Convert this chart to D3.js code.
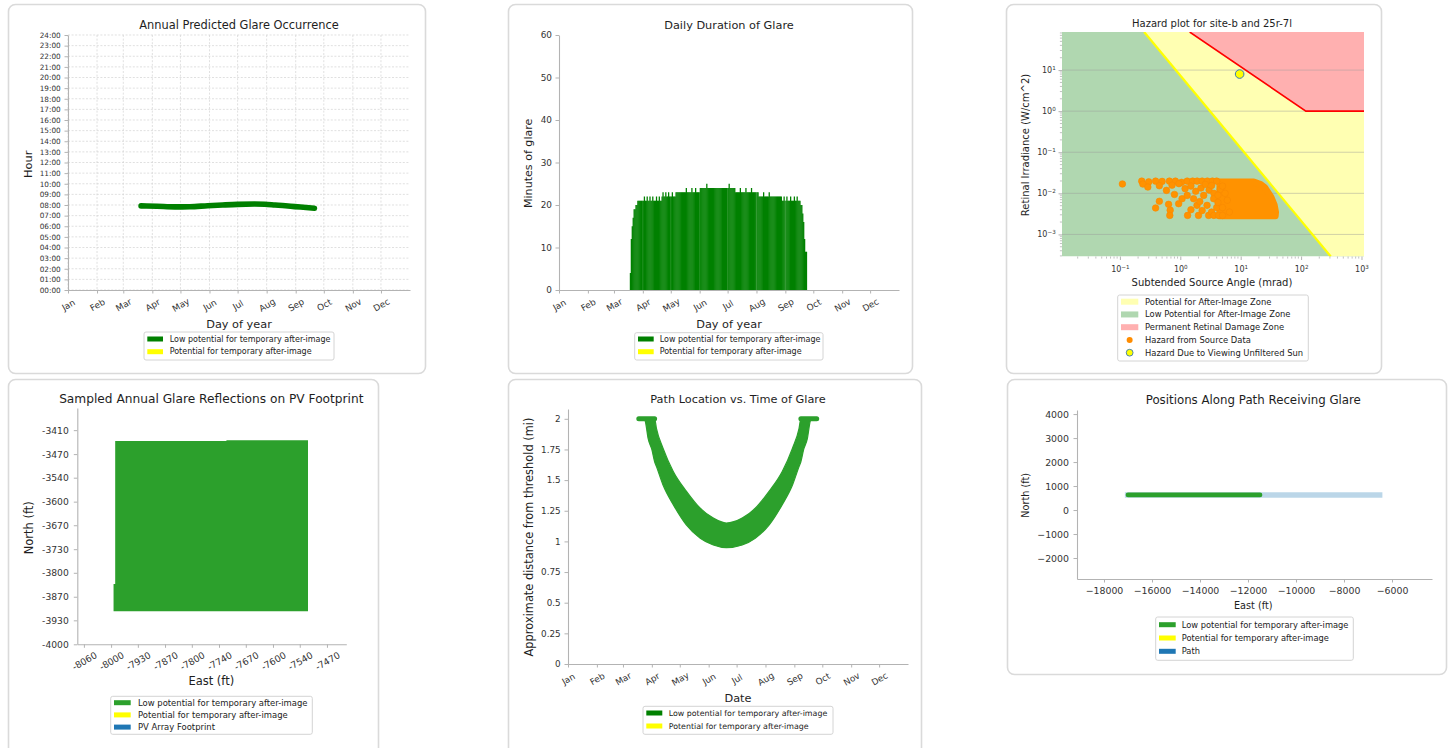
<!DOCTYPE html>
<html><head><meta charset="utf-8">
<script src="https://cdn.jsdelivr.net/npm/d3@7"></script>
<style>
body{margin:0;background:#fff;}
svg{display:block;}
text{font-family:"DejaVu Sans",sans-serif;}
</style>
</head><body>
<script>
// ======================= DATA =======================
const monthLabels = ["Jan","Feb","Mar","Apr","May","Jun","Jul","Aug","Sep","Oct","Nov","Dec"];
const glareLegendLabels = ["Low potential for temporary after-image","Potential for temporary after-image"];

// Panel 1 : Annual Predicted Glare Occurrence (day of year, hour of day)
const hourTicks = [0,1,2,3,4,5,6,7,8,9,10,11,12,13,14,15,16,17,18,19,20,21,22,23,24];
const hourLabels = ["00:00","01:00","02:00","03:00","04:00","05:00","06:00","07:00","08:00","09:00","10:00","11:00","12:00",
  "13:00","14:00","15:00","16:00","17:00","18:00","19:00","20:00","21:00","22:00","23:00","24:00"];
const glareDoy  = [79,96,115,131,150,166,182,200,211,222,233,243,255,264];
const glareHour = [7.92,7.88,7.82,7.84,7.93,8.00,8.06,8.09,8.07,8.00,7.93,7.85,7.77,7.70];

// Panel 2 : Daily Duration of Glare (minutes per day, starting at day of year 77)
const durationStartDoy = 77;
const durationMinutes = [
  4,12,15,17,19,19,20,20,                       // 77-84
  21,21,21,21,21,21,21,                         // 85-91
  22,21,21,22,21,21,22,21,21,22,21,21,21,22,21,21,22,21,21, // 92-110
  22,23,22,22,23,22,22,23,22,22,22,23,22,22,22, // 111-125
  23,23,23,23,23,23,23,23,23,23,23,24,23,23,23,23,23,24,23,23,23,24,23,23,23,23, // 126-151
  24,24,24,24,24,24,24,25,                      // 152-159
  24,24,24,24,24,24,24,24,24,24,24,24,24,24,24,24,24,24,24,24,24,24,24,25, // 160-183
  24,24,24,24,24,24,                            // 184-189
  23,23,23,23,23,24,23,23,23,23,23,24,23,23,23,23,23,24,23,23,23,23,23,23,23, // 190-214
  22,22,22,22,22,23,22,22,22,22,22,23,22,22,22,22,22,22,22,22,22,22,22,22,22, // 215-239
  21,21,22,21,21,22,21,21,21,22,21,21,21,22,21,21,22,21,21,21, // 240-259
  20,20,18,16,12,9,9                            // 260-266
];
const durationTicks = [0,10,20,30,40,50,60];

// Panel 3 : Hazard plot
const hazardAngle = [0.11,0.23,0.30,0.39,0.50,0.66,0.83,1.05,1.30,1.60,1.90,2.30,2.80,3.40,4.00,
  0.24,0.29,0.45,0.59,0.73,0.80,0.95,1.20,1.50,1.80,2.20,2.60,3.00,3.30,3.60,
  0.45,0.39,0.64,0.68,0.67,0.94,1.07,1.30,1.32,1.66,1.89,2.00,2.44,2.77,2.95,3.57,
  1.50,2.30,3.30,4.00,4.20,2.10,3.60,4.30,5.00,4.60,5.00,5.50,6.00,5.00,6.50,4.20];
const hazardIrr = [0.0169,0.0198,0.0190,0.0198,0.0195,0.0198,0.0198,0.0185,0.0198,0.0198,0.0198,0.0198,0.0198,0.0198,0.0198,
  0.0168,0.0142,0.0153,0.0118,0.0158,0.0094,0.0172,0.0130,0.0150,0.0112,0.0135,0.0165,0.0120,0.0155,0.0100,
  0.0064,0.0044,0.0054,0.0039,0.0029,0.0056,0.0074,0.0089,0.0029,0.0074,0.0051,0.0029,0.0089,0.0051,0.0029,0.0074,
  0.0040,0.0038,0.0035,0.0045,0.0060,0.0063,0.0029,0.0029,0.0029,0.0125,0.0150,0.0100,0.0068,0.0045,0.0035,0.0090];
// outline of the dense cloud of source-data points (point centres)
const denseAngle = [4.5,16.5,21.5,25,28,32,36,38,37.5,4.5];
const denseIrr   = [0.0190,0.0190,0.0165,0.0140,0.0109,0.0080,0.0053,0.0035,0.0028,0.0028];
const sunAngle = [9.6];
const sunIrr   = [8.0];
const afterImageAngle = [0.252,310];
const afterImageIrr   = [84.5,0.00029];
const damageAngle = [1.43,120,1100];
const damageIrr   = [84.5,1,1];
const angleTicks = [0.1,1,10,100,1000];
const angleExp   = ["\u22121","0","1","2","3"];
const irrTicks   = [0.001,0.01,0.1,1,10];
const irrExp     = ["\u22123","\u22122","\u22121","0","1"];
const hazardLegend = ["Potential for After-Image Zone","Low Potential for After-Image Zone","Permanent Retinal Damage Zone",
  "Hazard from Source Data","Hazard Due to Viewing Unfiltered Sun"];

// Panel 4 : PV footprint
const pvEast  = [-7984,-7714,-7714,-7516,-7516,-7988,-7988,-7984];
const pvNorth = [-3440,-3440,-3438,-3438,-3909,-3909,-3834,-3834];
const pvEastTicks  = [-8060,-7994,-7929,-7863,-7798,-7732,-7667,-7601,-7536,-7470];
const pvEastLabels = ["-8060","-8000","-7930","-7870","-7800","-7740","-7670","-7600","-7540","-7470"];
const pvNorthTicks  = [-4000,-3934,-3869,-3803,-3738,-3672,-3607,-3541,-3476,-3410];
const pvNorthLabels = ["-4000","-3930","-3870","-3800","-3730","-3670","-3600","-3540","-3470","-3410"];
const pvLegend = ["Low potential for temporary after-image","Potential for temporary after-image","PV Array Footprint"];

// Panel 5 : Path location vs time (day of year, min / max distance in miles)
const pathDoy  = [77,83,84,87,91,94,96,103,114,128,143,157,171,188,202,217,231,242,249,251,254,258,261,262,268];
const pathLow  = [2,2,1.98,1.84,1.75,1.65,1.61,1.46,1.30,1.135,1.026,0.971,0.949,0.971,1.026,1.135,1.30,1.46,1.61,1.65,1.75,1.84,1.98,2,2];
const pathHigh = [2,2,2,2,2,2,1.92,1.76,1.57,1.41,1.27,1.19,1.15,1.19,1.27,1.41,1.57,1.76,1.92,2,2,2,2,2,2];
const distTicks  = [0,0.25,0.5,0.75,1,1.25,1.5,1.75,2];
const distLabels = ["0","0.25","0.5","0.75","1","1.25","1.5","1.75","2"];

// Panel 6 : Positions along path
const routeEast  = [-17130,-6400];
const routeNorth = [630,630];
const glareEast  = [-17000,-11500];
const glareNorth = [630,630];
const eastTicks  = [-18000,-16000,-14000,-12000,-10000,-8000,-6000];
const northTicks = [-2000,-1000,0,1000,2000,3000,4000];
const routeLegend = ["Low potential for temporary after-image","Potential for temporary after-image","Path"];

// ======================= DRAWING =======================
const svg = d3.select("body").append("svg").attr("width",1450).attr("height",748);
const SPINE = "#b3b3b3", TICKC = "#333", LABC = "#1e1e1e";
const yr0 = new Date(2023,0,1), yr1 = new Date(2024,0,1);
const doyDate = d => new Date(2023,0,d);
const monthDates = monthLabels.map((m,i)=>new Date(2023,i,1));
const MONTH_FS = 8.8, MONTH_OFF = 15;

function card(x,y,w,h){
  svg.append("rect").attr("x",x).attr("y",y).attr("width",w).attr("height",h).attr("rx",7)
    .attr("fill","#fff").attr("stroke","#dadada").attr("stroke-width",1.6);
}
function label(x,y,str,size,rot){
  const t = svg.append("text").attr("x",x).attr("y",y).attr("font-size",size).attr("fill",LABC)
    .attr("text-anchor","middle").attr("dominant-baseline","central").text(str);
  if(rot) t.attr("transform",`rotate(${rot},${x},${y})`);
  return t;
}
function styleAxis(g,size,hideDomain){
  g.select(".domain").attr("stroke",hideDomain?"none":SPINE).attr("stroke-width",1.1);
  g.selectAll(".tick line").attr("stroke",SPINE).attr("stroke-width",1);
  g.selectAll(".tick text").attr("fill",TICKC).attr("font-size",size);
}
function rotateX(g,off){
  g.selectAll(".tick text").attr("y",0).attr("dy",null).attr("dominant-baseline","central")
    .attr("text-anchor","middle").attr("transform",`translate(0,${off}) rotate(-30)`);
}
function legend(box,rows,items){
  const g = svg.append("g");
  g.append("rect").attr("x",box[0]).attr("y",box[1]).attr("width",box[2]).attr("height",box[3]).attr("rx",2)
    .attr("fill","#fff").attr("stroke","#cfcfcf").attr("stroke-width",0.9);
  items.forEach((it,i)=>{
    const cy = rows.y0 + i*rows.step;
    if(it.type==="dot"){
      g.append("circle").attr("cx",rows.sx+rows.sw/2).attr("cy",cy).attr("r",3).attr("fill",it.color);
    } else if(it.type==="sun"){
      g.append("circle").attr("cx",rows.sx+rows.sw/2).attr("cy",cy).attr("r",3.4).attr("fill","#ffff00")
        .attr("stroke","#3a78b5").attr("stroke-width",0.9);
    } else {
      g.append("rect").attr("x",rows.sx).attr("y",cy-rows.sh/2).attr("width",rows.sw).attr("height",rows.sh).attr("fill",it.color);
    }
    g.append("text").attr("x",rows.tx).attr("y",cy).attr("dominant-baseline","central")
      .attr("font-size",rows.fs).attr("fill","#222").text(it.label);
  });
}

// cards
card(8.5,4.5,417,369);
card(508.5,4.5,404,369);
card(1006.5,4.5,375,369);
card(8.5,379.5,370,380);
card(508.5,379.5,413,380);
card(1007.5,379.5,439,295);

// ---------------- Panel 1 ----------------
{
  const x = d3.scaleTime().domain([yr0,yr1]).range([68,410]);
  const y = d3.scaleLinear().domain([0,24]).range([290,35]);
  const grid = svg.append("g").attr("stroke","#d2d2d2").attr("stroke-width",0.7).attr("stroke-dasharray","2,1.6");
  grid.selectAll("line.h").data(hourTicks).join("line").attr("x1",68).attr("x2",410)
    .attr("y1",d=>y(d)).attr("y2",d=>y(d));
  grid.selectAll("line.v").data(monthDates).join("line").attr("y1",35).attr("y2",290)
    .attr("x1",d=>x(d)).attr("x2",d=>x(d));
  const pts = glareDoy.map((d,i)=>[x(doyDate(d)), y(glareHour[i])]);
  svg.append("path").attr("d",d3.line().curve(d3.curveMonotoneX)(pts)).attr("fill","none")
    .attr("stroke","#008000").attr("stroke-width",5.6).attr("stroke-linecap","round");
  const ga = svg.append("g").attr("transform","translate(68,0)")
    .call(d3.axisLeft(y).tickValues(hourTicks).tickFormat((d,i)=>hourLabels[i]).tickSize(3.5).tickPadding(3.8).tickSizeOuter(0));
  styleAxis(ga,7.3);
  const gb = svg.append("g").attr("transform","translate(0,290)")
    .call(d3.axisBottom(x).tickValues(monthDates).tickFormat((d,i)=>monthLabels[i]).tickSize(3.5).tickSizeOuter(0));
  styleAxis(gb,MONTH_FS); rotateX(gb,MONTH_OFF);
  label(239,25,"Annual Predicted Glare Occurrence",11.4);
  label(239,324.5,"Day of year",11.3);
  label(28.7,164.3,"Hour",11.3,-90);
  legend([144,332,190,28],{y0:339,step:12.7,sx:147.3,sw:15.7,sh:5,tx:169.7,fs:8},
    [{color:"#008000",label:glareLegendLabels[0]},{color:"#ffff00",label:glareLegendLabels[1]}]);
}

// ---------------- Panel 2 ----------------
{
  const x = d3.scaleTime().domain([yr0,yr1]).range([559,899]);
  const y = d3.scaleLinear().domain([0,60]).range([290,35]);
  const bars = durationMinutes.map((v,i)=>({doy:durationStartDoy+i, v}));
  svg.append("g").selectAll("rect").data(bars).join("rect")
    .attr("x",d=>x(doyDate(d.doy))).attr("width",d=>x(doyDate(d.doy+1))-x(doyDate(d.doy))+0.35)
    .attr("y",d=>y(d.v)).attr("height",d=>y(0)-y(d.v)).attr("fill","#008000");
  svg.append("g").selectAll("line").data(monthDates).join("line")
    .attr("x1",d=>x(d)).attr("x2",d=>x(d)).attr("y1",35).attr("y2",290)
    .attr("stroke","#ffffff").attr("stroke-opacity",0.16).attr("stroke-width",0.9);
  const ga = svg.append("g").attr("transform","translate(559,0)")
    .call(d3.axisLeft(y).tickValues(durationTicks).tickSize(3.5).tickPadding(3.5).tickSizeOuter(0));
  styleAxis(ga,8.9);
  const gb = svg.append("g").attr("transform","translate(0,290)")
    .call(d3.axisBottom(x).tickValues(monthDates).tickFormat((d,i)=>monthLabels[i]).tickSize(3.5).tickSizeOuter(0));
  styleAxis(gb,MONTH_FS); rotateX(gb,MONTH_OFF);
  label(729,25,"Daily Duration of Glare",11.3);
  label(729,324.5,"Day of year",11.3);
  label(528.7,163.3,"Minutes of glare",11.1,-90);
  legend([634.7,332.7,188.3,27.3],{y0:339,step:12.7,sx:638,sw:15.7,sh:5,tx:659.7,fs:8},
    [{color:"#008000",label:glareLegendLabels[0]},{color:"#ffff00",label:glareLegendLabels[1]}]);
}

// ---------------- Panel 3 ----------------
{
  const x = d3.scaleLog().domain([0.011,1100]).range([1062,1364]);
  const y = d3.scaleLog().domain([0.00029,84.5]).range([256.5,32]);
  const [xd0,xd1] = x.domain(), [yd0,yd1] = y.domain();
  svg.append("clipPath").attr("id","clip3").append("rect").attr("x",1062).attr("y",32).attr("width",302).attr("height",224.5);
  const g = svg.append("g").attr("clip-path","url(#clip3)");
  g.append("rect").attr("x",1062).attr("y",32).attr("width",302).attr("height",224.5).attr("fill","#b0d7b0");
  const poly = d3.line();
  const yz = [[afterImageAngle[0],yd1],[afterImageAngle[1],afterImageIrr[1]],[xd1,yd0],[xd1,yd1]];
  g.append("path").attr("d",poly(yz.map(p=>[x(p[0]),y(p[1])]))+"Z").attr("fill","#ffffb2");
  const rz = damageAngle.map((a,i)=>[a,damageIrr[i]]).concat([[xd1,yd1]]);
  g.append("path").attr("d",poly(rz.map(p=>[x(p[0]),y(p[1])]))+"Z").attr("fill","#ffb0b0");
  g.selectAll("line.grid").data(irrTicks).join("line").attr("x1",1062).attr("x2",1364)
    .attr("y1",d=>y(d)).attr("y2",d=>y(d)).attr("stroke","#9a9a9a").attr("stroke-opacity",0.45).attr("stroke-width",1);
  g.append("path").attr("d",poly(afterImageAngle.map((a,i)=>[x(a),y(afterImageIrr[i])])))
    .attr("stroke","#ffff00").attr("stroke-width",2.2).attr("fill","none");
  g.append("path").attr("d",poly(damageAngle.map((a,i)=>[x(a),y(damageIrr[i])])))
    .attr("stroke","#ff0000").attr("stroke-width",1.6).attr("fill","none");
  // dense cloud of hazard points
  g.append("path").attr("d",poly(denseAngle.map((a,i)=>[x(a),y(denseIrr[i])]))+"Z")
    .attr("fill","#ff9200").attr("stroke","#ff9200").attr("stroke-width",6.6).attr("stroke-linejoin","round");
  g.selectAll("circle.h").data(hazardAngle).join("circle").attr("cx",d=>x(d)).attr("cy",(d,i)=>y(hazardIrr[i]))
    .attr("r",3.3).attr("fill","#ff9200").attr("stroke","#f98a00").attr("stroke-width",0.6);
  g.selectAll("circle.s").data(sunAngle).join("circle").attr("cx",d=>x(d)).attr("cy",(d,i)=>y(sunIrr[i]))
    .attr("r",4.3).attr("fill","#ffff00").attr("stroke","#3a78b5").attr("stroke-width",1);
  // axes
  const ga = svg.append("g").attr("transform","translate(1062,0)")
    .call(d3.axisLeft(y).tickValues(irrTicks).tickSize(3.5).tickPadding(2.8).tickSizeOuter(0));
  styleAxis(ga,8,true);
  ga.selectAll(".tick text").each(function(d,i){
    const t=d3.select(this); t.text(null);
    t.append("tspan").text("10");
    t.append("tspan").attr("dy","-0.55em").attr("font-size","0.7em").text(irrExp[i]);
  });
  const gb = svg.append("g").attr("transform","translate(0,256.5)")
    .call(d3.axisBottom(x).tickValues(angleTicks).tickSize(3.5).tickPadding(6).tickSizeOuter(0));
  styleAxis(gb,8,true);
  gb.selectAll(".tick text").each(function(d,i){
    const t=d3.select(this); t.text(null);
    t.append("tspan").text("10");
    t.append("tspan").attr("dy","-0.55em").attr("font-size","0.7em").text(angleExp[i]);
  });
  // minor ticks
  const minors=[];
  [-2,-1,0,1,2,3].forEach(k=>[2,3,4,5,6,7,8,9].forEach(m=>minors.push(m*Math.pow(10,k))));
  svg.append("g").selectAll("line").data(minors.filter(v=>v>xd0&&v<xd1)).join("line")
    .attr("x1",d=>x(d)).attr("x2",d=>x(d)).attr("y1",256.5).attr("y2",258.6).attr("stroke",SPINE).attr("stroke-width",0.8);
  const yminors=[];
  [-4,-3,-2,-1,0,1].forEach(k=>[2,3,4,5,6,7,8,9].forEach(m=>yminors.push(m*Math.pow(10,k))));
  svg.append("g").selectAll("line").data(yminors.filter(v=>v>yd0&&v<yd1)).join("line")
    .attr("y1",d=>y(d)).attr("y2",d=>y(d)).attr("x1",1059.9).attr("x2",1062).attr("stroke",SPINE).attr("stroke-width",0.8);
  label(1212,23.3,"Hazard plot for site-b and 25r-7l",10);
  label(1212,282.3,"Subtended Source Angle (mrad)",10);
  label(1025.7,145,"Retinal Irradiance (W/cm^2)",10,-90);
  legend([1117.7,295,190.6,66],{y0:301.7,step:12.75,sx:1121,sw:17.3,sh:6,tx:1145,fs:8.4},
    [{color:"#ffffb2",label:hazardLegend[0]},{color:"#b0d7b0",label:hazardLegend[1]},{color:"#ffb0b0",label:hazardLegend[2]},
     {type:"dot",color:"#ff8c00",label:hazardLegend[3]},{type:"sun",label:hazardLegend[4]}]);
}

// ---------------- Panel 4 ----------------
{
  const x = d3.scaleLinear().domain([-8076,-7423]).range([77.3,346.3]);
  const y = d3.scaleLinear().domain([-4000,-3349]).range([644.3,408]);
  svg.append("path").attr("d",d3.line()(pvEast.map((e,i)=>[x(e),y(pvNorth[i])]))+"Z").attr("fill","#2ca02c");
  const ga = svg.append("g").attr("transform","translate(77.3,0)")
    .call(d3.axisLeft(y).tickValues(pvNorthTicks).tickFormat((d,i)=>pvNorthLabels[i]).tickSize(3.5).tickPadding(5).tickSizeOuter(0));
  styleAxis(ga,9.2);
  const gb = svg.append("g").attr("transform","translate(0,644.3)")
    .call(d3.axisBottom(x).tickValues(pvEastTicks).tickFormat((d,i)=>pvEastLabels[i]).tickSize(3.5).tickSizeOuter(0));
  styleAxis(gb,9.2); rotateX(gb,16.5);
  label(211.3,398.7,"Sampled Annual Glare Reflections on PV Footprint",12.2);
  label(211.3,681,"East (ft)",11.5);
  label(28.7,527.7,"North (ft)",11.5,-90);
  legend([110.7,696.3,201.6,38],{y0:702.7,step:12.2,sx:114,sw:16.7,sh:5,tx:138,fs:8.45},
    [{color:"#2ca02c",label:pvLegend[0]},{color:"#ffff00",label:pvLegend[1]},{color:"#1f77b4",label:pvLegend[2]}]);
}

// ---------------- Panel 5 ----------------
{
  const x = d3.scaleTime().domain([yr0,yr1]).range([568,908]);
  const y = d3.scaleLinear().domain([0,2.08]).range([664,409]);
  const data = pathDoy.map((d,i)=>({doy:d, lo:pathLow[i], hi:pathHigh[i]}));
  svg.append("path").attr("d",d3.area().curve(d3.curveMonotoneX)
      .x(d=>x(doyDate(d.doy))).y0(d=>y(d.lo)).y1(d=>y(d.hi))(data))
    .attr("fill","#2ca02c").attr("stroke","#2ca02c").attr("stroke-width",1.2);
  svg.append("path").attr("d",d3.line().defined(d=>d.hi>=2).x(d=>x(doyDate(d.doy))).y(d=>y(d.hi))(data))
    .attr("fill","none").attr("stroke","#2ca02c").attr("stroke-width",5).attr("stroke-linecap","round");
  const ga = svg.append("g").attr("transform","translate(568,0)")
    .call(d3.axisLeft(y).tickValues(distTicks).tickFormat((d,i)=>distLabels[i]).tickSize(3.5).tickPadding(3.8).tickSizeOuter(0));
  styleAxis(ga,8.8);
  const gb = svg.append("g").attr("transform","translate(0,664)")
    .call(d3.axisBottom(x).tickValues(monthDates).tickFormat((d,i)=>monthLabels[i]).tickSize(3.5).tickSizeOuter(0));
  styleAxis(gb,MONTH_FS); rotateX(gb,MONTH_OFF);
  label(738,399.3,"Path Location vs. Time of Glare",11.3);
  label(738,698,"Date",11.3);
  label(528.7,537,"Approximate distance from threshold (mi)",11.4,-90);
  legend([643,706.3,190,28],{y0:713,step:13,sx:646.3,sw:16,sh:5,tx:668.7,fs:7.9},
    [{color:"#008000",label:glareLegendLabels[0]},{color:"#ffff00",label:glareLegendLabels[1]}]);
}

// ---------------- Panel 6 ----------------
{
  const x = d3.scaleLinear().domain([-19125,-4333]).range([1077,1432]);
  const y = d3.scaleLinear().domain([-2875,4170]).range([579,410]);
  svg.append("path").attr("d",d3.line()(routeEast.map((e,i)=>[x(e),y(routeNorth[i])])))
    .attr("stroke","#1f77b4").attr("stroke-opacity",0.3).attr("stroke-width",5.5).attr("fill","none");
  svg.append("path").attr("d",d3.line()(glareEast.map((e,i)=>[x(e),y(glareNorth[i])])))
    .attr("stroke","#2ca02c").attr("stroke-width",4.7).attr("stroke-linecap","round").attr("fill","none");
  const fmt = d3.format("d");
  const ga = svg.append("g").attr("transform","translate(1077,0)")
    .call(d3.axisLeft(y).tickValues(northTicks).tickFormat(fmt).tickSize(3.5).tickPadding(4.5).tickSizeOuter(0));
  styleAxis(ga,9.4);
  const gb = svg.append("g").attr("transform","translate(0,579)")
    .call(d3.axisBottom(x).tickValues(eastTicks).tickFormat(fmt).tickSize(3.5).tickPadding(4.6).tickSizeOuter(0));
  styleAxis(gb,9.4);
  label(1253.3,399.7,"Positions Along Path Receiving Glare",11.8);
  label(1253.3,605.3,"East (ft)",9.7);
  label(1025.7,495.3,"North (ft)",9.7,-90);
  legend([1155.7,617,197.6,43.3],{y0:624.7,step:13.3,sx:1159,sw:16.7,sh:5,tx:1181.7,fs:8.3},
    [{color:"#2ca02c",label:routeLegend[0]},{color:"#ffff00",label:routeLegend[1]},{color:"#1f77b4",label:routeLegend[2]}]);
}
</script>
</body></html>
